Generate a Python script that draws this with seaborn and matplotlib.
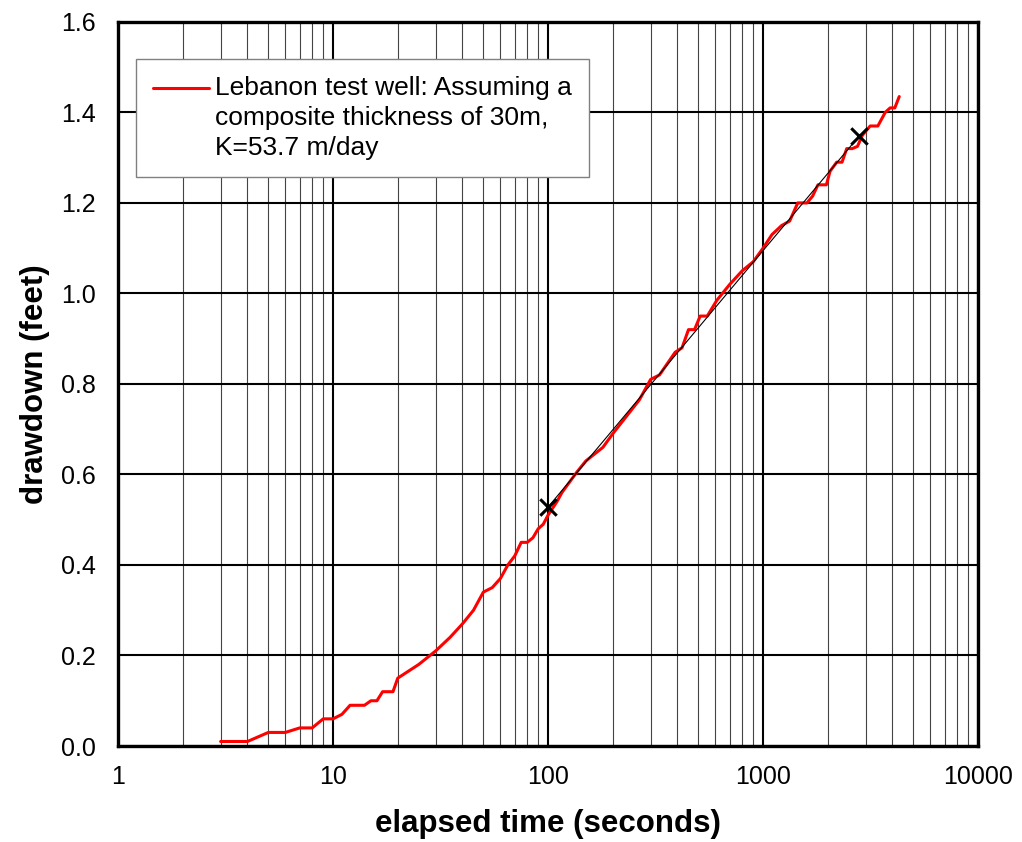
import matplotlib
matplotlib.use("Agg")
import numpy as np
import pandas as pd
import matplotlib.pyplot as plt
import seaborn as sns
from matplotlib.ticker import FixedLocator, NullFormatter

# ----------------------------------------------------------
# Data
# ----------------------------------------------------------
time_s = [3, 4, 5, 6, 7, 8, 9, 10, 11, 12, 14, 15, 16, 17, 19, 20, 25, 30,
          35, 40, 45, 50, 55, 60, 65, 70, 75, 80, 85, 90, 95, 100, 110, 116,
          136, 150, 180, 200, 266, 300, 330, 390, 420, 450, 480, 510, 550,
          610, 700, 800, 900, 1000, 1100, 1220, 1330, 1450, 1600, 1700, 1800,
          1970, 2050, 2200, 2330, 2450, 2600, 2750, 2900, 3150, 3420, 3700,
          3900, 4100, 4300]
drawdown_ft = [0.01, 0.01, 0.03, 0.03, 0.04, 0.04, 0.06, 0.06, 0.07, 0.09,
               0.09, 0.10, 0.10, 0.12, 0.12, 0.15, 0.18, 0.21, 0.24, 0.27,
               0.30, 0.34, 0.35, 0.37, 0.40, 0.42, 0.45, 0.45, 0.46, 0.48,
               0.49, 0.51, 0.54, 0.56, 0.605, 0.63, 0.66, 0.69, 0.765, 0.81,
               0.82, 0.87, 0.88, 0.92, 0.92, 0.95, 0.95, 0.985, 1.02, 1.05,
               1.07, 1.10, 1.13, 1.15, 1.16, 1.20, 1.20, 1.215, 1.24, 1.24,
               1.27, 1.29, 1.29, 1.32, 1.32, 1.325, 1.35, 1.37, 1.37, 1.40,
               1.41, 1.41, 1.435]

# straight-line fit through two picked points
fit_time = [100, 2800]
fit_drawdown = [0.528, 1.348]

legend_label = ("Lebanon test well: Assuming a\n"
                "composite thickness of 30m,\n"
                "K=53.7 m/day")

x_ticks = [1, 10, 100, 1000, 10000]
x_tick_labels = ["1", "10", "100", "1000", "10000"]
y_ticks = [0.0, 0.2, 0.4, 0.6, 0.8, 1.0, 1.2, 1.4, 1.6]
y_tick_labels = ["0.0", "0.2", "0.4", "0.6", "0.8", "1.0", "1.2", "1.4", "1.6"]

df = pd.DataFrame({"time": time_s, "drawdown": drawdown_ft})
fit = pd.DataFrame({"time": fit_time, "drawdown": fit_drawdown})

# ----------------------------------------------------------
# Plot
# ----------------------------------------------------------
sns.set_style("white")
plt.rcParams["font.family"] = ["Liberation Sans", "DejaVu Sans"]
plt.rcParams["text.color"] = "black"
plt.rcParams["axes.labelcolor"] = "black"
plt.rcParams["xtick.color"] = "black"
plt.rcParams["ytick.color"] = "black"

fig, ax = plt.subplots(figsize=(10.22, 8.42), dpi=100)
fig.subplots_adjust(left=0.1155, right=0.957, top=0.974, bottom=0.114)

sns.lineplot(data=df, x="time", y="drawdown", sort=False, color="#ff0000",
             linewidth=2.2, label=legend_label, ax=ax, zorder=3)
sns.lineplot(data=fit, x="time", y="drawdown", sort=False, color="black",
             linewidth=0.8, ax=ax, zorder=4, legend=False)
ax.scatter(fit["time"], fit["drawdown"], marker="x", s=140, color="black",
           linewidths=2.2, zorder=5)

ax.set_xscale("log")
ax.set_xlim(1, 10000)
ax.set_ylim(0, 1.6)

ax.set_xticks(x_ticks)
ax.set_xticklabels(x_tick_labels)
minor = [m * d for d in [1, 10, 100, 1000] for m in range(2, 10)]
ax.xaxis.set_minor_locator(FixedLocator(minor))
ax.xaxis.set_minor_formatter(NullFormatter())
ax.set_yticks(y_ticks)
ax.set_yticklabels(y_tick_labels)

ax.grid(True, which="major", color="black", linewidth=1.5)
ax.grid(True, which="minor", axis="x", color="#444444", linewidth=0.8)
ax.set_axisbelow(True)

ax.tick_params(axis="both", which="both", length=0, labelsize=18)
ax.tick_params(axis="x", pad=14)
ax.tick_params(axis="y", pad=16)

for s in ax.spines.values():
    s.set_visible(True)
    s.set_color("black")
    s.set_linewidth(2.4)

ax.set_xlabel("elapsed time (seconds)", fontsize=22.5, fontweight="bold", labelpad=14)
ax.set_ylabel("drawdown (feet)", fontsize=22.5, fontweight="bold", labelpad=8)

leg = ax.legend(loc="upper left", bbox_to_anchor=(0.021, 0.949),
                borderaxespad=0, fontsize=19, frameon=True, fancybox=False,
                framealpha=1, edgecolor="#808080", handlelength=2.1,
                handletextpad=0.25, borderpad=0.65, labelspacing=0.3)
leg.get_frame().set_linewidth(1.0)
leg.set_zorder(10)
for t in leg.get_texts():
    t.set_linespacing(1.32)

# move the legend line up to the first text line
for ln in leg.get_lines():
    ln.set_ydata(np.asarray(ln.get_ydata(), dtype=float) + 21.5)

plt.savefig("out.png", dpi=100)
